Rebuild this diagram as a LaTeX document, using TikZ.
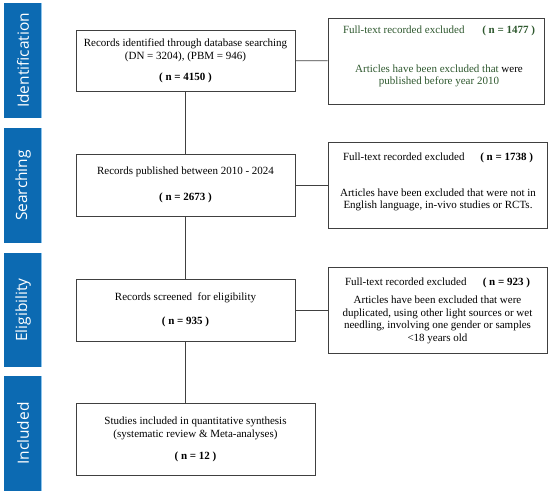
\documentclass[tikz,border=0pt]{standalone}
\usepackage{fontspec}
\setmainfont{Liberation Serif}
\newfontfamily\sidefont{Open Sans}
\definecolor{barblue}{RGB}{12,106,178}
\definecolor{baredge}{RGB}{140,196,236}
\definecolor{exgreen}{RGB}{46,88,46}
\definecolor{boxline}{RGB}{64,64,64}
\tikzset{
  phase/.style={fill=barblue, draw=none, minimum width=38pt, inner sep=0pt},
  phasetext/.style={text=white, rotate=90, font=\sidefont\fontsize{15.5}{18}\selectfont},
  mainbox/.style={draw=boxline, line width=0.9pt, align=center, inner sep=0pt,
    font=\fontsize{11}{13}\selectfont, execute at begin node={\rule{0pt}{13.5pt}}},
  exbox/.style={draw=boxline, line width=0.9pt, minimum height=86pt, inner sep=0pt},
  extext/.style={align=center, inner sep=0pt, font=\fontsize{11}{12.5}\selectfont},
  link/.style={draw=boxline, line width=0.9pt}
}
\newcommand{\exhead}[2]{\makebox[#1][s]{Full-text recorded excluded\hfill\textbf{( n = #2 )}}}
\begin{document}
\begin{tikzpicture}[x=1pt, y=-1pt]
  \useasboundingbox (0,0) rectangle (550,495);

  % phase bars
  \node[phase, minimum height=115pt] (ident) at (23,60.5) {};
  \node[phase, minimum height=115pt] (search) at (23,185.5) {};
  \node[phase, minimum height=114pt] (elig) at (23,310) {};
  \node[phase, minimum height=115pt] (incl) at (23,433.5) {};
  \foreach \p in {ident,search,elig,incl}
    \draw[baredge, line width=1.5pt] ([xshift=-0.75pt]\p.north east) -- ([xshift=-0.75pt]\p.south east);
  \node[phasetext] (identlab) at (ident) {Identification};
  \node[phasetext] (searchlab) at (search) {Searching};
  \node[phasetext] (eliglab) at (elig) {Eligibility};
  \node[phasetext] (incllab) at (incl) {Included};

  % main column
  \node[mainbox, minimum width=219pt, minimum height=61pt] (records) at (185.5,60.5)
    {Records identified through database searching\\
     (DN = 3204), (PBM = 946)\\[8pt] \textbf{( n = 4150 )}};
  \node[mainbox, minimum width=219pt, minimum height=62pt] (published) at (185.5,185)
    {Records published between 2010 - 2024\\[13pt] \textbf{( n = 2673 )}};
  \node[mainbox, minimum width=219pt, minimum height=62pt] (screened) at (185.5,310)
    {Records screened \ for eligibility\\[11pt] \textbf{( n = 935 )}};
  \node[mainbox, minimum width=239pt, minimum height=72pt] (included) at (195.5,439)
    {Studies included in quantitative synthesis\\
     (systematic review \& Meta-analyses)\\[9pt] \textbf{( n = 12 )}};

  % exclusion boxes
  \node[exbox, minimum width=216pt] (excl1) at (436,61) {};
  \node[exbox, minimum width=219pt] (excl2) at (437.5,185) {};
  \node[exbox, minimum width=219pt] (excl3) at (437.5,310) {};

  \node[extext, text=exgreen] (excl1t) at (439,56.5)
    {\exhead{192pt}{1477}\\[26pt]
     Articles have been excluded that \textcolor{black}{were}\\
     published before year 2010};
  \node[extext] (excl2t) at (438,182)
    {\exhead{190pt}{1738}\\[23.5pt]
     Articles have been excluded that were not in\\
     English language, in-vivo studies or RCTs.};
  \node[extext] (excl3t) at (437.5,311)
    {\exhead{185pt}{923}\\[5.5pt]
     Articles have been excluded that were\\
     duplicated, using other light sources or wet\\
     needling, involving one gender or samples\\
     <18 years old};

  % connectors
  \draw[link] (records) -- (published);
  \draw[link] (published) -- (screened);
  \draw[link] (screened.south) -- (screened.south |- included.north);
  \draw[link] (records) -- (excl1);
  \draw[link] (published) -- (excl2);
  \draw[link] (screened) -- (excl3);
\end{tikzpicture}
\end{document}
